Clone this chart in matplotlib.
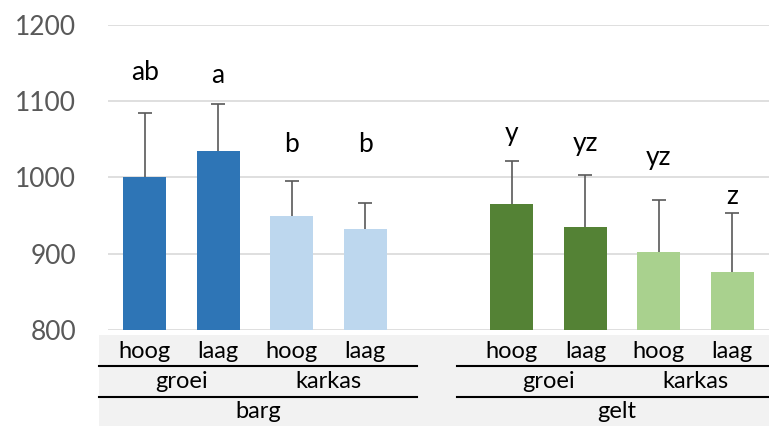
import matplotlib.pyplot as plt
from matplotlib.transforms import blended_transform_factory
from matplotlib.patches import Rectangle

# data
groups = ['barg', 'gelt']
types = ['groei', 'karkas']
levels = ['hoog', 'laag']

barg_means = [1001, 1035, 949, 933]
barg_err = [84, 62, 46, 34]
gelt_means = [965, 935, 902, 876]
gelt_err = [57, 68, 68, 77]

barg_letters = ['ab', 'a', 'b', 'b']
gelt_letters = ['y', 'yz', 'yz', 'z']
barg_letter_y = [1138, 1134, 1043, 1043]
gelt_letter_y = [1058, 1045, 1026, 975]

barg_colors = ['#2E75B6', '#2E75B6', '#BDD7EE', '#BDD7EE']
gelt_colors = ['#548235', '#548235', '#A9D18E', '#A9D18E']

W, H = 769, 426
plt.rcParams['font.family'] = ['Lato', 'DejaVu Sans']
fig = plt.figure(figsize=(W / 100, H / 100), dpi=100)
ax = fig.add_axes([108 / W, 1 - 330 / H, 1 - 108 / W, 305 / H])

x_barg = [0, 1, 2, 3]
x_gelt = [5, 6, 7, 8]
width = 43 / 73.4

ax.bar(x_barg, barg_means, width=width, color=barg_colors, zorder=2)
ax.bar(x_gelt, gelt_means, width=width, color=gelt_colors, zorder=2)
for xs, m, e in [(x_barg, barg_means, barg_err), (x_gelt, gelt_means, gelt_err)]:
    eb = ax.errorbar(xs, m, yerr=[[0] * 4, e], fmt='none', ecolor='#595959',
                     elinewidth=1.2, capsize=5, capthick=1.2, zorder=3)
    eb[1][0].set_visible(False)  # hide lower caps

for x, t, y in zip(x_barg, barg_letters, barg_letter_y):
    ax.text(x, y, t, ha='center', va='center', fontsize=19, color='black')
for x, t, y in zip(x_gelt, gelt_letters, gelt_letter_y):
    ax.text(x, y, t, ha='center', va='center', fontsize=19, color='black')

ax.set_xlim(-0.5, 8.5)
ax.set_ylim(800, 1200)
ax.set_yticks([800, 900, 1000, 1100, 1200])
ax.tick_params(axis='y', length=0, pad=23, labelsize=19, labelcolor='#595959')
ax.set_xticks([])
ax.grid(axis='y', color='#D9D9D9', linewidth=1.2, zorder=0)
ax.set_axisbelow(True)
for s in ax.spines.values():
    s.set_visible(False)

# multi-level category axis
tr = blended_transform_factory(ax.transData, fig.transFigure)
fy = lambda px: 1 - px / H
ax.add_patch(Rectangle((-0.62, fy(H)), 9.2, fy(335) - fy(H), transform=tr,
                       facecolor='#F2F2F2', edgecolor='none', clip_on=False, zorder=0))

for xs, g, (x0, x1) in [(x_barg, groups[0], (-0.62, 3.71)), (x_gelt, groups[1], (4.25, 8.6))]:
    for i, x in enumerate(xs):
        ax.text(x, fy(351), levels[i % 2], transform=tr, ha='center', va='center',
                fontsize=17, color='black')
    for j, t in enumerate(types):
        xc = (xs[2 * j] + xs[2 * j + 1]) / 2
        ax.text(xc, fy(382), t, transform=tr, ha='center', va='center',
                fontsize=17, color='black')
    ax.text((x0 + x1) / 2, fy(412), g, transform=tr, ha='center', va='center',
            fontsize=17, color='black')
    for py in [366, 397]:
        ax.plot([x0, x1], [fy(py), fy(py)], transform=tr, color='black',
                linewidth=1.5, clip_on=False)

fig.savefig('out.png', dpi=100)
